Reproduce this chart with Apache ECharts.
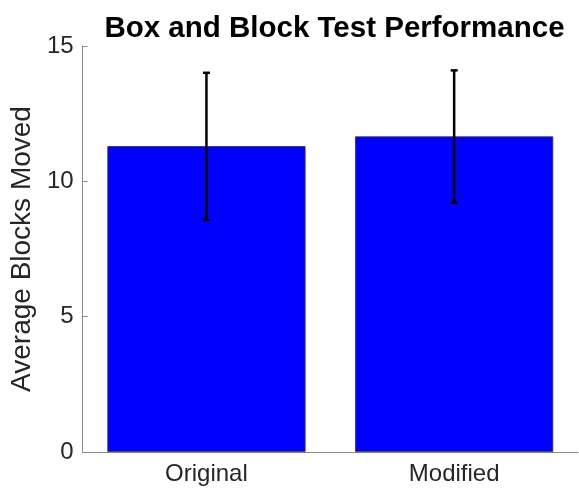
<!DOCTYPE html>
<html>
<head>
<meta charset="utf-8">
<script src="https://cdn.jsdelivr.net/npm/echarts@6/dist/echarts.min.js"></script>
<style>html,body{margin:0;padding:0;background:#fff}#c{width:579px;height:489px}</style>
</head>
<body>
<div id="c"></div>
<script>
var categories = ['Original', 'Modified'];
var means = [11.3, 11.66];
var errLow = [8.57, 9.21];
var errHigh = [14.01, 14.1];
var yTicks = [0, 5, 10, 15];

var chart = echarts.init(document.getElementById('c'), null, {renderer: 'canvas'});
var font = '"Liberation Sans", Arial, Helvetica, sans-serif';
var errData = categories.map(function (c, i) { return [i, errLow[i], errHigh[i]]; });

chart.setOption({
  animation: false,
  title: {
    text: 'Box and Block Test Performance',
    left: 329.5,
    textAlign: 'center',
    top: 9,
    textStyle: {fontFamily: font, fontSize: 29.5, fontWeight: 'bold', color: '#000'}
  },
  grid: {left: 81, right: 1, top: 46, bottom: 37, containLabel: false},
  xAxis: {
    type: 'category',
    data: categories,
    boundaryGap: true,
    axisLine: {lineStyle: {color: '#8a8a8a', width: 1}},
    axisTick: {inside: true, length: 5, alignWithLabel: true, lineStyle: {color: '#8a8a8a'}},
    axisLabel: {fontFamily: font, fontSize: 24, color: '#262626', margin: 10},
    splitLine: {show: false}
  },
  yAxis: {
    type: 'value',
    min: 0, max: 15, interval: 5,
    name: 'Average Blocks Moved',
    nameLocation: 'middle',
    nameRotate: 90,
    nameGap: 42,
    nameTextStyle: {fontFamily: font, fontSize: 28, color: '#262626'},
    axisLine: {show: true, lineStyle: {color: '#8a8a8a', width: 1}},
    axisTick: {show: true, inside: true, length: 5, lineStyle: {color: '#8a8a8a'}},
    axisLabel: {fontFamily: font, fontSize: 24, color: '#262626', margin: 9,
      formatter: function (v) { return yTicks.indexOf(v) >= 0 ? String(v) : ''; }},
    splitLine: {show: false}
  },
  series: [
    {
      type: 'bar',
      data: means,
      barWidth: '80%',
      itemStyle: {color: '#0000ff', borderColor: '#333333', borderWidth: 0.8}
    },
    {
      type: 'custom',
      data: errData,
      z: 10,
      renderItem: function (params, api) {
        var x = api.value(0);
        var lo = api.coord([x, api.value(1)]);
        var hi = api.coord([x, api.value(2)]);
        var cap = 3.5;
        var st = {stroke: '#000', lineWidth: 2.5};
        return {
          type: 'group',
          children: [
            {type: 'line', shape: {x1: lo[0], y1: lo[1], x2: hi[0], y2: hi[1]}, style: st},
            {type: 'line', shape: {x1: lo[0] - cap, y1: lo[1], x2: lo[0] + cap, y2: lo[1]}, style: st},
            {type: 'line', shape: {x1: hi[0] - cap, y1: hi[1], x2: hi[0] + cap, y2: hi[1]}, style: st}
          ]
        };
      }
    }
  ]
});
</script>
</body>
</html>
